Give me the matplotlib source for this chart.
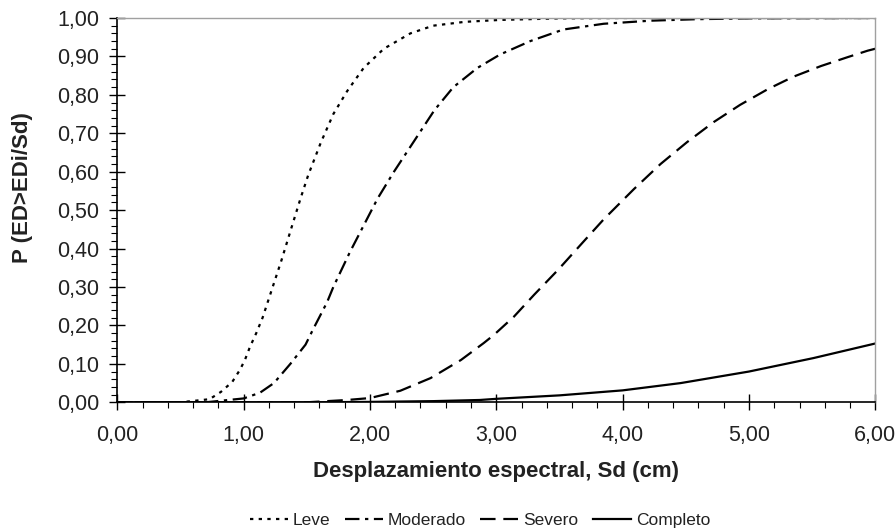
import matplotlib
matplotlib.use("Agg")
import matplotlib.pyplot as plt
from matplotlib.ticker import MultipleLocator, FuncFormatter

plt.rcParams['font.family'] = ['Liberation Sans', 'DejaVu Sans']

# Values
leve_x = [0.0, 0.5, 0.73, 0.82, 0.91, 0.97, 1.01, 1.05, 1.10, 1.15, 1.19, 1.23, 1.30, 1.37,
          1.45, 1.51, 1.61, 1.71, 1.82, 1.95, 2.11, 2.32, 2.50, 2.75, 3.03, 3.5, 4.0, 5.0, 6.0]
leve_y = [0.0, 0.0, 0.008, 0.027, 0.053, 0.084, 0.11, 0.144, 0.18, 0.22, 0.26, 0.30, 0.37, 0.445,
          0.53, 0.59, 0.675, 0.75, 0.81, 0.87, 0.92, 0.96, 0.98, 0.99, 0.995, 0.999, 1.0, 1.0, 1.0]

mod_x = [0.0, 0.7, 1.0, 1.13, 1.24, 1.37, 1.49, 1.55, 1.66, 1.71, 1.84, 1.95, 2.06, 2.19, 2.35,
         2.51, 2.66, 2.85, 3.03, 3.27, 3.53, 3.85, 4.22, 4.6, 5.0, 6.0]
mod_y = [0.0, 0.0, 0.01, 0.025, 0.05, 0.10, 0.15, 0.19, 0.26, 0.30, 0.39, 0.46, 0.53, 0.60, 0.68,
         0.76, 0.82, 0.87, 0.905, 0.94, 0.97, 0.985, 0.993, 0.997, 0.999, 1.0]

sev_x = [0.0, 1.5, 1.82, 2.0, 2.24, 2.48, 2.72, 2.90, 2.98, 3.14, 3.30, 3.49, 3.69, 3.85, 4.09,
         4.30, 4.51, 4.72, 4.93, 5.15, 5.35, 5.57, 5.78, 5.94, 6.0]
sev_y = [0.0, 0.0, 0.006, 0.011, 0.03, 0.063, 0.11, 0.154, 0.175, 0.223, 0.28, 0.345, 0.418, 0.476, 0.555,
         0.62, 0.677, 0.729, 0.774, 0.815, 0.847, 0.875, 0.898, 0.915, 0.92]

comp_x = [0.0, 1.5, 2.0, 2.5, 2.87, 3.0, 3.5, 4.0, 4.46, 5.0, 5.51, 6.0]
comp_y = [0.0, 0.0, 0.001, 0.003, 0.006, 0.009, 0.018, 0.031, 0.05, 0.08, 0.115, 0.153]

names = ['Leve', 'Moderado', 'Severo', 'Completo']

fig = plt.figure(figsize=(8.96, 5.31), dpi=100)
ax = fig.add_axes([0.1309, 0.2424, 0.9769 - 0.1309, 0.9661 - 0.2424])

lw = 1.6
ax.plot(leve_x, leve_y, color='black', lw=lw, linestyle=(0, (1.5, 2.4)), label=names[0])
ax.plot(mod_x, mod_y, color='black', lw=lw, linestyle=(0, (6.5, 2.5, 1.5, 2.5)), label=names[1])
ax.plot(sev_x, sev_y, color='black', lw=lw, linestyle=(0, (7, 3.5)), label=names[2])
ax.plot(comp_x, comp_y, color='black', lw=lw, linestyle='-', label=names[3])

ax.set_xlim(0, 6)
ax.set_ylim(0, 1)
ax.xaxis.set_major_locator(MultipleLocator(1))
ax.xaxis.set_minor_locator(MultipleLocator(0.2))
ax.yaxis.set_major_locator(MultipleLocator(0.1))
ax.yaxis.set_minor_locator(MultipleLocator(0.02))
fmt = FuncFormatter(lambda v, p: f"{v:.2f}".replace('.', ','))
ax.xaxis.set_major_formatter(fmt)
ax.yaxis.set_major_formatter(fmt)

ax.tick_params(which='major', direction='inout', length=11, width=1, colors='black',
               labelsize=15.5, labelcolor='#222222')
ax.tick_params(axis='y', which='major', pad=7.5)
ax.tick_params(axis='x', which='major', pad=11)
ax.tick_params(which='minor', direction='out', length=4, width=0.8, colors='black')

for s in ['left', 'bottom']:
    ax.spines[s].set_color('black')
    ax.spines[s].set_linewidth(1.2)
for s in ['top', 'right']:
    ax.spines[s].set_color('#a0a0a0')
    ax.spines[s].set_linewidth(1.0)

ax.set_xlabel('Desplazamiento espectral, Sd (cm)', fontsize=16, fontweight='bold',
              color='#222222', labelpad=11)
ax.set_ylabel('P (ED>EDi/Sd)', fontsize=16, fontweight='bold', color='#222222')
ax.yaxis.set_label_coords(-0.111, 0.56)

leg = fig.legend(loc='center', bbox_to_anchor=(480 / 896, 1 - 520 / 531), ncol=4,
                 frameon=False, fontsize=12.5, handlelength=2.2, handletextpad=0.3,
                 columnspacing=0.8)
for t in leg.get_texts():
    t.set_color('#222222')

fig.savefig('out.png', dpi=100)
